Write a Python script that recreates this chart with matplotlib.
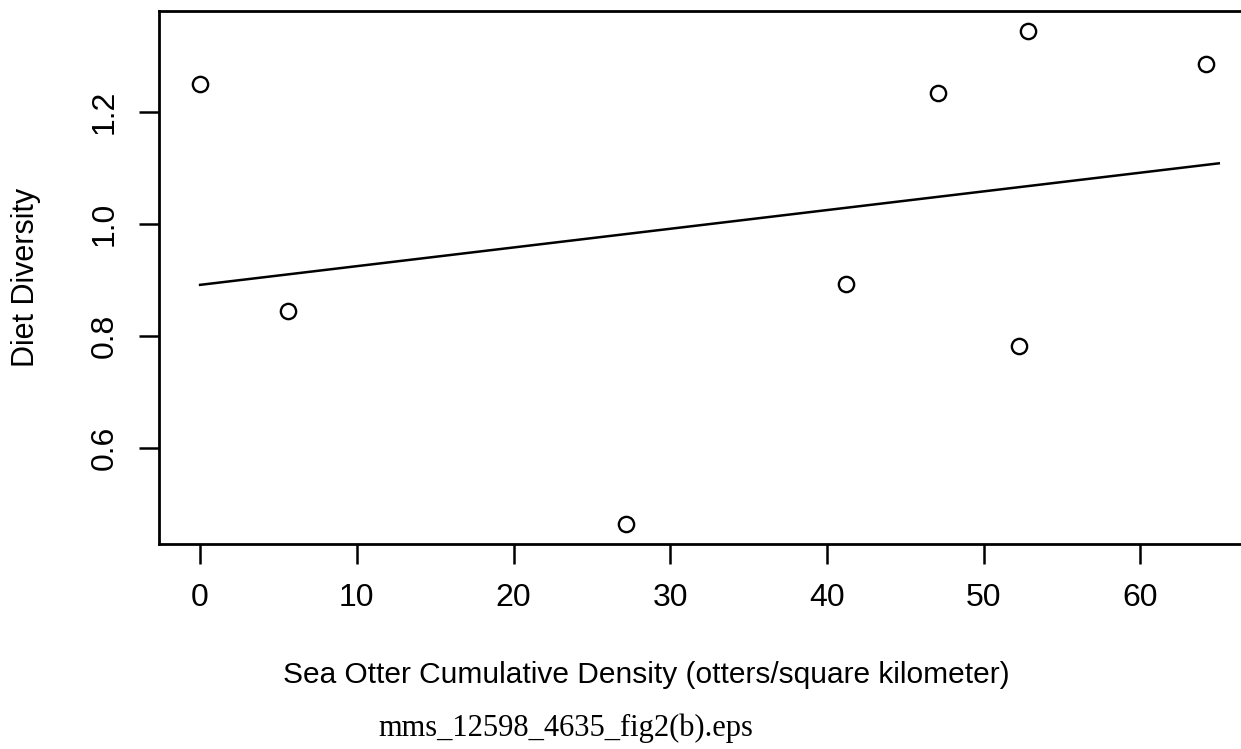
import matplotlib
matplotlib.use("Agg")
import matplotlib.pyplot as plt

# Data
density = [0.0, 5.6, 27.15, 41.24, 47.1, 52.27, 52.84, 64.17]
diversity = [1.250, 0.845, 0.464, 0.893, 1.234, 0.782, 1.345, 1.285]
fit_x = [0.0, 65.0]
fit_y = [0.891, 1.108]
x_ticks = [0, 10, 20, 30, 40, 50, 60]
y_ticks = [0.6, 0.8, 1.0, 1.2]
y_tick_labels = ["0.6", "0.8", "1.0", "1.2"]

plt.rcParams['font.family'] = ['Liberation Sans', 'DejaVu Sans']

fig = plt.figure(figsize=(12.41, 7.49), dpi=100)
ax = fig.add_axes([0.1284, 0.2741, 0.8865, 0.7112])

ax.plot(density, diversity, linestyle='none', marker='o', markersize=11,
        markerfacecolor='white', markeredgecolor='black', markeredgewidth=1.7)
ax.plot(fit_x, fit_y, color='black', linewidth=1.8)

ax.set_xlim(-2.6, 67.6)
ax.set_ylim(0.4288, 1.380)

ax.set_xticks(x_ticks)
ax.set_xticklabels([str(t) for t in x_ticks])
ax.set_yticks(y_ticks)
ax.set_yticklabels(y_tick_labels, rotation=90, va='center')

for s in ax.spines.values():
    s.set_linewidth(2.0)
ax.tick_params(axis='both', direction='out', length=14.4, width=1.8,
               labelsize=23)
ax.tick_params(axis='x', pad=14)
ax.tick_params(axis='y', pad=14)

fig.text(646 / 1241, 1 - 675 / 749, "Sea Otter Cumulative Density (otters/square kilometer)",
         ha='center', va='center', fontsize=21.5)
fig.text(26 / 1241, 1 - 277 / 749, "Diet Diversity", rotation=90,
         ha='center', va='center', fontsize=22)
fig.text(566 / 1241, 1 - 728 / 749, "mms_12598_4635_fig2(b).eps",
         ha='center', va='center', fontsize=22,
         family=['Liberation Serif', 'DejaVu Serif'])

fig.savefig("out.png", dpi=100)
